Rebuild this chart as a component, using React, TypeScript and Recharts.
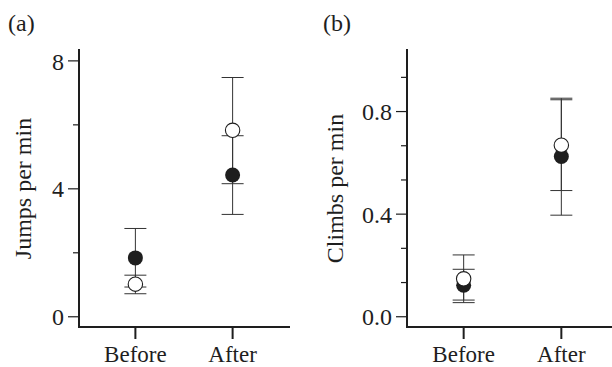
import { ErrorBar, Scatter, ScatterChart, XAxis, YAxis } from "recharts"

const phases = ["Before", "After"]
const phaseX = [1, 2]

// (a) jumps per min
const jumpsFilled = [1.84, 4.43]
const jumpsFilledLo = [0.93, 3.2]
const jumpsFilledHi = [2.76, 5.66]
const jumpsOpen = [1.02, 5.83]
const jumpsOpenLo = [0.72, 4.16]
const jumpsOpenHi = [1.3, 7.48]
const jumpsTicks = [0, 2, 4, 6, 8]
const jumpsTickLabels = ["0", "", "4", "", "8"]

// (b) climbs per min
const climbsFilled = [0.123, 0.625]
const climbsFilledLo = [0.065, 0.396]
const climbsFilledHi = [0.185, 0.852]
const climbsOpen = [0.148, 0.669]
const climbsOpenLo = [0.055, 0.492]
const climbsOpenHi = [0.241, 0.846]
const climbsTicks = [0, 0.1333, 0.2667, 0.4, 0.5333, 0.6667, 0.8, 0.9333]
const climbsTickLabels = ["0.0", "", "", "0.4", "", "", "0.8", ""]

const FONT = '"Liberation Serif", "Times New Roman", serif'
const INK = "#1e1e1e"

function rows(mean: number[], lo: number[], hi: number[]) {
  return mean.map((m, i) => ({ x: phaseX[i], y: m, err: [m - lo[i], hi[i] - m] }))
}

const filledDot = (p: any) => <circle cx={p.cx} cy={p.cy} r={7.5} fill={INK} />
const openDot = (p: any) => <circle cx={p.cx} cy={p.cy} r={7.2} fill="#fff" stroke={INK} strokeWidth={1.1} />

function makeYTick(ticks: number[], labels: string[]) {
  return (p: any) => {
    const i = ticks.indexOf(p.payload.value)
    const label = labels[i] ?? ""
    const len = label ? 11 : 6
    return (
      <g>
        <line x1={p.x - len} x2={p.x} y1={p.y} y2={p.y} stroke={INK} strokeWidth={1.2} />
        {label && (
          <text x={p.x - len - 4} y={p.y} dy="0.36em" textAnchor="end" fontFamily={FONT} fontSize={24} fill={INK}>
            {label}
          </text>
        )}
      </g>
    )
  }
}

const xTick = (p: any) => {
  const i = phaseX.indexOf(p.payload.value)
  return (
    <g>
      <line x1={p.x} x2={p.x} y1={p.y} y2={p.y + 12} stroke={INK} strokeWidth={2} />
      <text x={p.x} y={p.y + 35} textAnchor="middle" fontFamily={FONT} fontSize={23} fill={INK}>
        {phases[i]}
      </text>
    </g>
  )
}

function yLabel(text: string, dx: number) {
  return (p: any) => {
    const vb = p.viewBox
    const cx = vb.x + dx
    const cy = vb.y + vb.height / 2
    return (
      <text
        x={cx}
        y={cy}
        transform={`rotate(-90 ${cx} ${cy})`}
        textAnchor="middle"
        dominantBaseline="central"
        fontFamily={FONT}
        fontSize={24}
        fill={INK}
      >
        {text}
      </text>
    )
  }
}

type PanelProps = {
  width: number
  axisWidth: number
  right: number
  domain: [number, number]
  ticks: number[]
  tickLabels: string[]
  title: string
  filled: ReturnType<typeof rows>
  open: ReturnType<typeof rows>
  labelX: number
}

function Panel(props: PanelProps) {
  const axisLine = { stroke: INK, strokeWidth: 2, strokeLinecap: "square" as const }
  return (
    <ScatterChart width={props.width} height={367} margin={{ top: 50, right: props.right, bottom: 0, left: 0 }}>
      <XAxis
        type="number"
        dataKey="x"
        domain={[0.42, 2.58]}
        ticks={phaseX}
        height={40}
        tickSize={0}
        tickMargin={0}
        tickLine={false}
        axisLine={axisLine}
        tick={xTick}
        allowDataOverflow
      />
      <YAxis
        type="number"
        dataKey="y"
        domain={props.domain}
        ticks={props.ticks}
        width={props.axisWidth}
        tickSize={0}
        tickMargin={0}
        tickLine={false}
        axisLine={axisLine}
        tick={makeYTick(props.ticks, props.tickLabels)}
        interval={0}
        allowDataOverflow
        label={yLabel(props.title, props.labelX)}
      />
      <Scatter data={props.filled} shape={filledDot} isAnimationActive={false}>
        <ErrorBar dataKey="err" direction="y" width={11} stroke="#333" strokeWidth={1} />
      </Scatter>
      <Scatter data={props.open} shape={openDot} isAnimationActive={false}>
        <ErrorBar dataKey="err" direction="y" width={11} stroke="#333" strokeWidth={1} />
      </Scatter>
    </ScatterChart>
  )
}

const tag = { position: "absolute" as const, top: 11, fontFamily: FONT, fontSize: 24, lineHeight: "24px", color: INK }

export default function App() {
  return (
    <div style={{ position: "absolute", left: 0, top: 0, width: 612, height: 367, overflow: "hidden", background: "#fff" }}>
      <div style={{ display: "flex" }}>
        <div style={{ flexShrink: 0, width: 306 }}>
          <Panel
            width={306}
            axisWidth={79}
            right={17}
            domain={[-0.32, 8.34]}
            ticks={jumpsTicks}
            tickLabels={jumpsTickLabels}
            title="Jumps per min"
            filled={rows(jumpsFilled, jumpsFilledLo, jumpsFilledHi)}
            open={rows(jumpsOpen, jumpsOpenLo, jumpsOpenHi)}
            labelX={23}
          />
        </div>
        <div style={{ flexShrink: 0, width: 312 }}>
          <Panel
            width={312}
            axisWidth={101}
            right={0}
            domain={[-0.04, 1.04]}
            ticks={climbsTicks}
            tickLabels={climbsTickLabels}
            title="Climbs per min"
            filled={rows(climbsFilled, climbsFilledLo, climbsFilledHi)}
            open={rows(climbsOpen, climbsOpenLo, climbsOpenHi)}
            labelX={29}
          />
        </div>
      </div>
      <span style={{ ...tag, left: 8 }}>(a)</span>
      <span style={{ ...tag, left: 323 }}>(b)</span>
    </div>
  )
}
